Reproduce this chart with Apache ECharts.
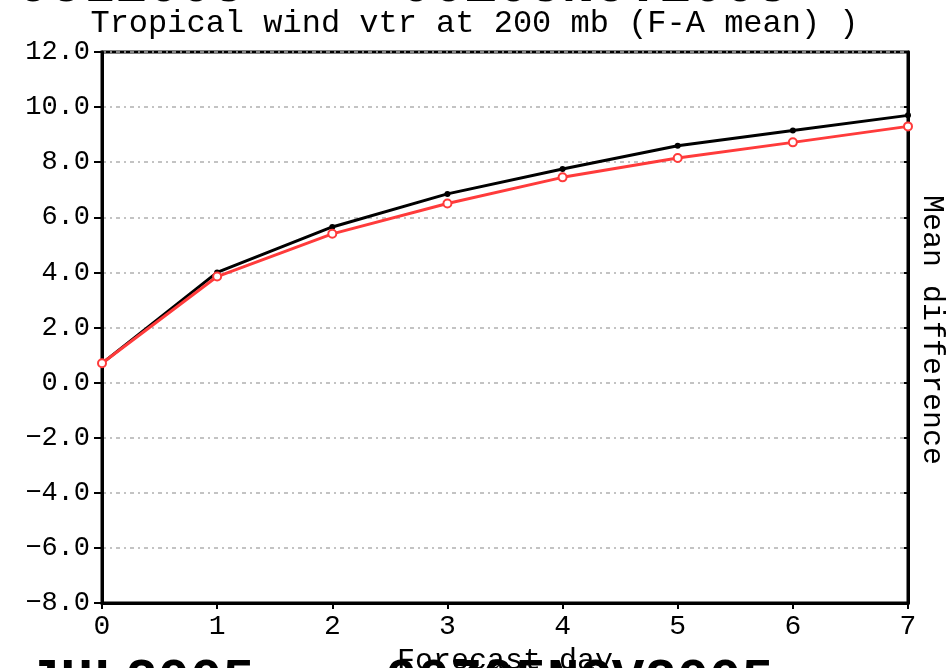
<!DOCTYPE html>
<html>
<head>
<meta charset="utf-8">
<script src="https://cdn.jsdelivr.net/npm/echarts@6/dist/echarts.min.js"></script>
<style>
  html, body { margin: 0; padding: 0; background: #fff; }
  #chart { width: 949px; height: 668px; }
</style>
</head>
<body>
<div id="chart"></div>
<script>
// Forecast days and mean (F-A) differences of tropical vector wind at 200 mb
const forecastDays = [0, 1, 2, 3, 4, 5, 6, 7];
const blackSeries = [0.7, 4.0, 5.65, 6.85, 7.75, 8.6, 9.15, 9.7];
const redSeries = [0.7, 3.85, 5.4, 6.5, 7.45, 8.15, 8.72, 9.3];
const yTicks = { min: -8, max: 12, step: 2 };

const titleText = 'Tropical wind vtr at 200 mb (F-A mean) )';
const xName = 'Forecast day';
const yName = 'Mean difference';
const periodStart = 'JUL2005';
const periodEnd = '00Z05NOV2005';

const FONT = '"Liberation Mono", "DejaVu Sans Mono", monospace';

function fmt(v) {
  const s = Math.abs(v).toFixed(1);
  return v < 0 ? '\u2212' + s : s;
}

const chart = echarts.init(document.getElementById('chart'), null, { renderer: 'canvas' });

chart.setOption({
  animation: false,
  backgroundColor: '#fff',
  grid: {
    left: 102, right: 41, top: 52, bottom: 65,
    containLabel: false, outerBoundsMode: 'none',
    show: true, borderColor: '#000', borderWidth: 3
  },
  xAxis: [{
    type: 'value', min: 0, max: 7, interval: 1,
    axisLine: { show: true, onZero: false, lineStyle: { color: '#000', width: 3 } },
    axisTick: { show: true, inside: false, length: 6, lineStyle: { color: '#000', width: 2 } },
    axisLabel: { color: '#000', fontFamily: FONT, fontSize: 28, margin: 10 },
    splitLine: { show: false },
    name: xName, nameLocation: 'middle', nameGap: 38,
    nameTextStyle: { color: '#000', fontFamily: FONT, fontSize: 30 }
  }],
  yAxis: [{
    type: 'value', min: yTicks.min, max: yTicks.max, interval: yTicks.step,
    axisLine: { show: true, onZero: false, lineStyle: { color: '#000', width: 3 } },
    axisTick: { show: true, inside: false, length: 8, lineStyle: { color: '#000', width: 2 } },
    axisLabel: { color: '#000', fontFamily: FONT, fontSize: 27, margin: 12, formatter: fmt },
    splitLine: { show: true, lineStyle: { color: '#b0b0b0', width: 1.5, type: [4, 4, 2, 4] } }
  }, {
    type: 'value', min: yTicks.min, max: yTicks.max, interval: yTicks.step, position: 'right',
    axisLine: { show: true, onZero: false, lineStyle: { color: '#000', width: 3 } },
    axisTick: { show: true, inside: true, length: 4, lineStyle: { color: '#000', width: 2 } },
    axisLabel: { show: false },
    splitLine: { show: false }
  }],
  series: [{
    type: 'line',
    data: forecastDays.map((d, i) => [d, blackSeries[i]]),
    symbol: 'circle', symbolSize: 6,
    itemStyle: { color: '#000' },
    lineStyle: { color: '#000', width: 3 },
    z: 2
  }, {
    type: 'line',
    data: forecastDays.map((d, i) => [d, redSeries[i]]),
    symbol: 'emptyCircle', symbolSize: 8,
    itemStyle: { color: '#ff3b3b', borderWidth: 2 },
    lineStyle: { color: '#ff3b3b', width: 3 },
    z: 3
  }],
  graphic: [
    { type: 'text', left: 'center', top: 8,
      style: { text: titleText, font: '32px ' + FONT, fill: '#000' } },
    { type: 'text', x: 932, y: 330, rotation: -Math.PI / 2,
      style: { text: yName, font: '30px ' + FONT, fill: '#000', align: 'center', verticalAlign: 'middle' } },
    // period labels, clipped by the canvas edges
    { type: 'text', x: 18, y: 14,
      style: { text: periodStart, font: 'bold 54px ' + FONT, fill: '#000', verticalAlign: 'bottom' } },
    { type: 'text', x: 400, y: 14,
      style: { text: periodEnd, font: 'bold 54px ' + FONT, fill: '#000', verticalAlign: 'bottom' } },
    { type: 'text', x: 28, y: 655,
      style: { text: periodStart, font: 'bold 54px ' + FONT, fill: '#000', verticalAlign: 'top' } },
    { type: 'text', x: 385, y: 655,
      style: { text: periodEnd, font: 'bold 54px ' + FONT, fill: '#000', verticalAlign: 'top' } }
  ]
});
</script>
</body>
</html>
